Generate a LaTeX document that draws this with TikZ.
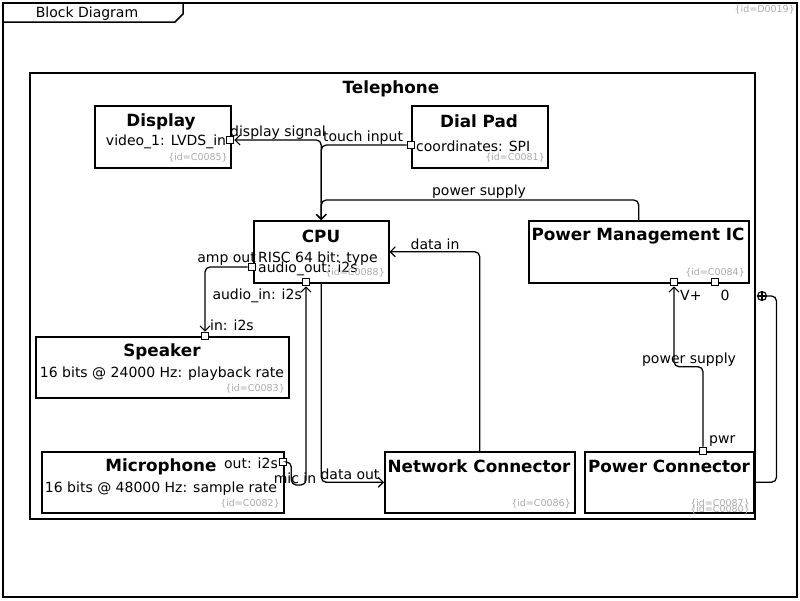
\documentclass[tikz,border=0pt]{standalone}
\usepackage{fontspec}
\setmainfont{DejaVu Sans}
\usetikzlibrary{arrows.meta}
\definecolor{idgray}{HTML}{AAAAAA}

\begin{document}
\begin{tikzpicture}[x=1pt, y=-1pt,
  blk/.style={draw, line width=1.5pt, anchor=north west, inner sep=0pt},
  prt/.style={draw, fill=white, line width=1.1pt, minimum size=7.5pt, inner sep=0pt},
  ttl/.style={font=\fontsize{16.8}{18}\selectfont\bfseries, inner sep=0pt, yshift=-1.5pt},
  txt/.style={font=\fontsize{14}{16}\selectfont, inner sep=0pt, yshift=-1.5pt},
  tag/.style={font=\fontsize{9.5}{11}\selectfont, text=idgray, inner sep=0pt, anchor=east, yshift=-1pt},
  conn/.style={line width=1.3pt, rounded corners=5pt},
  arr/.style={-{Straight Barb[length=5pt, width=10pt, line width=1.1pt]}}]
\useasboundingbox (0,0) rectangle (800,600);
% diagram frame
\draw[line width=1.7pt] (3,3) rectangle (797,597);
\draw[line width=1.5pt] (3,22) -- (175,22) -- (183,14) -- (183,3);
\node[txt] (diagname) at (87,12) {Block Diagram};
\node[tag] (diagid) at (795,9) {\{id=D0019\}};
% blocks
\node[blk, minimum width=725pt, minimum height=446pt] (phone) at (29,72) {};
\node[blk, minimum width=136pt, minimum height=62pt] (display) at (94,105) {};
\node[blk, minimum width=136pt, minimum height=62pt] (dialpad) at (411,105) {};
\node[blk, minimum width=135pt, minimum height=62pt] (cpu) at (253,220) {};
\node[blk, minimum width=220pt, minimum height=62pt] (pmic) at (528,220) {};
\node[blk, minimum width=253pt, minimum height=61pt] (speaker) at (35,336) {};
\node[blk, minimum width=242pt, minimum height=61pt] (mic) at (41,451) {};
\node[blk, minimum width=190pt, minimum height=61pt] (netconn) at (384,451) {};
\node[blk, minimum width=169pt, minimum height=61pt] (pwrconn) at (584,451) {};
% block texts
\node[ttl] (phoneT) at (391,87) {Telephone};
\node[ttl] (displayT) at (161,120) {Display};
\node[txt] (displayV) at (166,140) {video\_1: LVDS\_in};
\node[tag] (displayId) at (228,157) {\{id=C0085\}};
\node[ttl] (dialpadT) at (479,120) {Dial Pad};
\node[txt, anchor=west] (dialpadV) at (416,145) {coordinates: SPI};
\node[tag] (dialpadId) at (545,157) {\{id=C0081\}};
\node[ttl] (cpuT) at (321,235) {CPU};
\node[txt, anchor=west] (cpuV) at (258,257) {RISC 64 bit: type};
\node[txt, anchor=west] (cpuP) at (258,267) {audio\_out: i2s};
\node[tag] (cpuId) at (385,272) {\{id=C0088\}};
\node[ttl] (pmicT) at (638,235) {Power Management IC};
\node[tag] (pmicId) at (745,272) {\{id=C0084\}};
\node[ttl] (speakerT) at (162,350) {Speaker};
\node[txt] (speakerV) at (162,372) {16 bits @ 24000 Hz: playback rate};
\node[tag] (speakerId) at (285,388) {\{id=C0083\}};
\node[ttl] (micT) at (161,465) {Microphone};
\node[txt] (micV) at (161,487) {16 bits @ 48000 Hz: sample rate};
\node[tag] (micId) at (280,503) {\{id=C0082\}};
\node[ttl] (netconnT) at (479,465) {Network Connector};
\node[tag] (netconnId) at (571,503) {\{id=C0086\}};
\node[ttl] (pwrconnT) at (669,465) {Power Connector};
\node[tag] (pwrconnId) at (750,503) {\{id=C0087\}};
\node[tag] (pwrconnId2) at (750,509) {\{id=C0080\}};
% ports
\node[prt] (dispport) at (230,140) {};
\node[prt] (dialport) at (411,145) {};
\node[prt] (aoutport) at (252,267) {};
\node[prt] (ainport) at (306,282) {};
\node[prt] (vport) at (674,282) {};
\node[prt] (zport) at (715,282) {};
\node[prt] (spkport) at (205,336) {};
\node[prt] (micport) at (283,462) {};
\node[prt] (pwrport) at (703,451) {};
\node[txt, anchor=west] (vportL) at (680,294) {V+};
\node[txt] (zportL) at (725,294) {0};
\node[txt, anchor=west] (spkportL) at (210,324) {in: i2s};
\node[txt, anchor=east] (micportL) at (278,462) {out: i2s};
\node[txt, anchor=west] (pwrportL) at (709,440) {pwr};
\node[txt, anchor=east] (ainportL) at (302,294) {audio\_in: i2s};
% connectors
\draw[conn, arr] (dialport.west) -| (cpu.north);
\draw[conn, arr] (cpu.north) |- (dispport.east);
\draw[conn, arr] (pmic.north) -- ++(0,-20) -| (cpu.north);
\draw[conn, arr] (aoutport.west) -| (spkport.north);
\draw[conn, arr] (micport.east) -| ++(4,23) -| (ainport.south);
\draw[conn, arr] (cpu.south) |- (netconn.west);
\draw[conn, arr] (netconn.north) |- (cpu.east);
\draw[conn, arr] (pwrport.north) -- ++(0,-80) -| (vport.south);
\node[txt] (lbldisp) at (278,131) {display signal};
\node[txt] (lbltouch) at (363,136) {touch input};
\node[txt] (lblpow1) at (479,190) {power supply};
\node[txt, anchor=east] (lblamp) at (256,258) {amp out};
\node[txt] (lbldin) at (435,243) {data in};
\node[txt] (lblmic) at (295,477) {mic in};
\node[txt] (lbldout) at (350,473) {data out};
\node[txt] (lblpow2) at (689,358) {power supply};
% containment
\node[circle, draw, line width=1.1pt, minimum size=9pt, inner sep=0pt] (own) at (762,296) {};
\draw[line width=1.1pt] (own.north) -- (own.south) (own.west) -- (own.east);
\draw[conn] (own.east) -| ([xshift=22pt]pwrconn.east) -- (pwrconn.east);
\end{tikzpicture}
\end{document}
